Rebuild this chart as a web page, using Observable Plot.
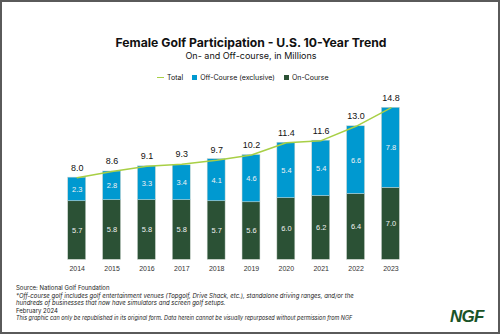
<!DOCTYPE html>
<html>
<head>
<meta charset="utf-8">
<script src="https://cdn.jsdelivr.net/npm/d3@7"></script>
<script src="https://cdn.jsdelivr.net/npm/@observablehq/plot@0.6"></script>
<style>
  html, body { margin: 0; padding: 0; background: #fff; }
  #frame { position: relative; width: 500px; height: 334px; box-sizing: border-box; border: 2px solid #5a5a5a; overflow: hidden; font-family: "Liberation Sans", Arial, sans-serif; color: #111; }
  #title { position: absolute; left: 0; width: 498px; top: 33px; text-align: center; font-family: Inter, sans-serif; font-weight: 700; font-size: 12.2px; }
  #subtitle { position: absolute; left: 0; width: 498px; top: 48px; text-align: center; font-family: Inter, sans-serif; font-size: 9px; }
  #legend { position: absolute; left: 155px; top: 70px; font-family: Inter, sans-serif; font-size: 7px; white-space: nowrap; }
  #legend span.item { display: inline-block; margin-right: 9px; vertical-align: middle; }
  #legend .line { display: inline-block; width: 7px; height: 1.5px; background: #a8cf45; vertical-align: middle; margin-right: 3px; }
  #legend .sq { display: inline-block; width: 5px; height: 5px; vertical-align: middle; margin-right: 3px; }
  #chart { position: absolute; left: -2px; top: 88px; }
  #footer { position: absolute; left: 14px; top: 282px; font-family: Inter, sans-serif; font-size: 6px; line-height: 7.6px; color: #222; }
  #footer i { font-style: italic; }
  #footer .small { font-size: 5.5px; }
  #logo { position: absolute; left: 448px; top: 305px; font-family: "Liberation Sans", Arial, sans-serif; font-weight: 700; font-style: italic; font-size: 17px; color: #1a5327; letter-spacing: -0.8px; }
</style>
</head>
<body>
<div id="frame">
  <div id="title">Female Golf Participation - U.S. 10-Year Trend</div>
  <div id="subtitle">On- and Off-course, in Millions</div>
  <div id="legend"></div>
  <div id="chart"></div>
  <div id="footer">
    Source: National Golf Foundation<br>
    <i>*Off-course golf includes golf entertainment venues (Topgolf, Drive Shack, etc.), standalone driving ranges, and/or the</i><br>
    <i>hundreds of businesses that now have simulators and screen golf setups.</i><br>
    February 2024<br>
    <i class="small">This graphic can only be republished in its original form. Data herein cannot be visually repurposed without permission from NGF</i>
  </div>
  <div id="logo">NGF</div>
</div>
<script>
const years = ["2014","2015","2016","2017","2018","2019","2020","2021","2022","2023"];
const onCourse = [5.7,5.8,5.8,5.8,5.7,5.6,6.0,6.2,6.4,7.0];
const offCourse = [2.3,2.8,3.3,3.4,4.1,4.6,5.4,5.4,6.6,7.8];
const total = [8.0,8.6,9.1,9.3,9.7,10.2,11.4,11.6,13.0,14.8];
const seriesNames = ["Total","Off-Course (exclusive)","On-Course"];
const colors = {"Total":"#a8cf45","Off-Course (exclusive)":"#0099d0","On-Course":"#2b5135"};

// legend
const leg = document.getElementById("legend");
seriesNames.forEach(n => {
  const s = document.createElement("span");
  s.className = "item";
  const mk = document.createElement("span");
  if (n === "Total") { mk.className = "line"; } else { mk.className = "sq"; mk.style.background = colors[n]; }
  s.appendChild(mk);
  s.appendChild(document.createTextNode(n));
  leg.appendChild(s);
});

const segs = [];
years.forEach((y, i) => {
  segs.push({year: y, series: "On-Course", y1: 0, y2: onCourse[i], mid: onCourse[i] / 2, v: onCourse[i]});
  segs.push({year: y, series: "Off-Course (exclusive)", y1: onCourse[i], y2: onCourse[i] + offCourse[i], mid: onCourse[i] + offCourse[i] / 2, v: offCourse[i]});
});
const totals = years.map((y, i) => ({year: y, total: total[i]}));

const chart = Plot.plot({
  width: 500,
  height: 185,
  marginLeft: 50,
  marginRight: 82,
  marginTop: 5,
  marginBottom: 15,
  style: {fontFamily: "'Liberation Sans', Arial, sans-serif", background: "transparent", overflow: "visible"},
  x: {domain: years, padding: 0.49, label: null, tickSize: 0, tickPadding: 6},
  y: {domain: [0, 16], axis: null},
  color: {domain: seriesNames, range: seriesNames.map(n => colors[n])},
  marks: [
    Plot.axisX({tickSize: 0, tickPadding: 6, fontSize: 7, fill: "#333", label: null}),
    Plot.rectY(segs, {x: "year", y1: "y1", y2: "y2", fill: "series", stroke: "#c9d3cc", strokeWidth: 0.5}),
    Plot.text(segs, {x: "year", y: "mid", text: d => d.v.toFixed(1), fill: "#f2f2f2", fontSize: 7.5}),
    Plot.line(totals, {x: "year", y: "total", stroke: colors["Total"], strokeWidth: 1.5}),
    Plot.text(totals, {x: "year", y: "total", text: d => d.total.toFixed(1), dy: -10, fill: "#111", fontSize: 9})
  ]
});
document.getElementById("chart").appendChild(chart);
</script>
</body>
</html>
